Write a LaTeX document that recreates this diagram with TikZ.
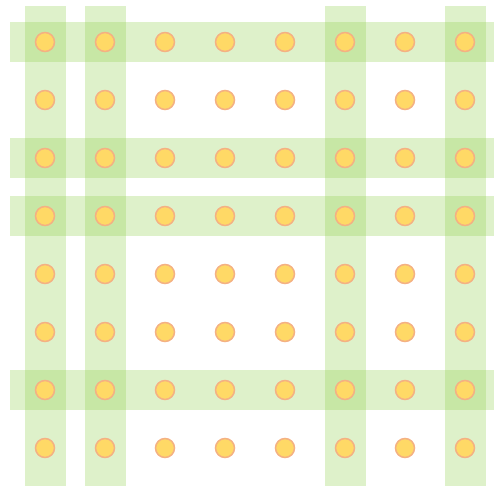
\documentclass[tikz,border=0pt]{standalone}
\usepackage{tikz}
\definecolor{bandgreen}{RGB}{146,208,80}
\definecolor{dotfill}{RGB}{255,217,102}
\definecolor{dotline}{RGB}{244,177,131}
\tikzset{
  band/.style={fill=bandgreen, fill opacity=0.3, draw=none},
  pt/.style={circle, fill=dotfill, draw=dotline, line width=1.5pt,
             minimum size=19pt, inner sep=0pt},
}

\begin{document}
\begin{tikzpicture}[x=1pt, y=-1pt]
        \useasboundingbox (0,0) rectangle (495,487);
        % column bands
        \foreach \cx in {45,105,345,465}
          \fill[band] (\cx-20.5,6) rectangle (\cx+20.5,486);
        % row bands
        \foreach \ry in {42,158,216,390}
          \fill[band] (10,\ry-20) rectangle (494,\ry+20);
        % dots
        \foreach \i in {1,...,8}
          \foreach \j in {1,...,8}
            \node[pt] (d-\i-\j) at ({45+60*(\i-1)}, {42+58*(\j-1)}) {};
      \end{tikzpicture}
\end{document}
